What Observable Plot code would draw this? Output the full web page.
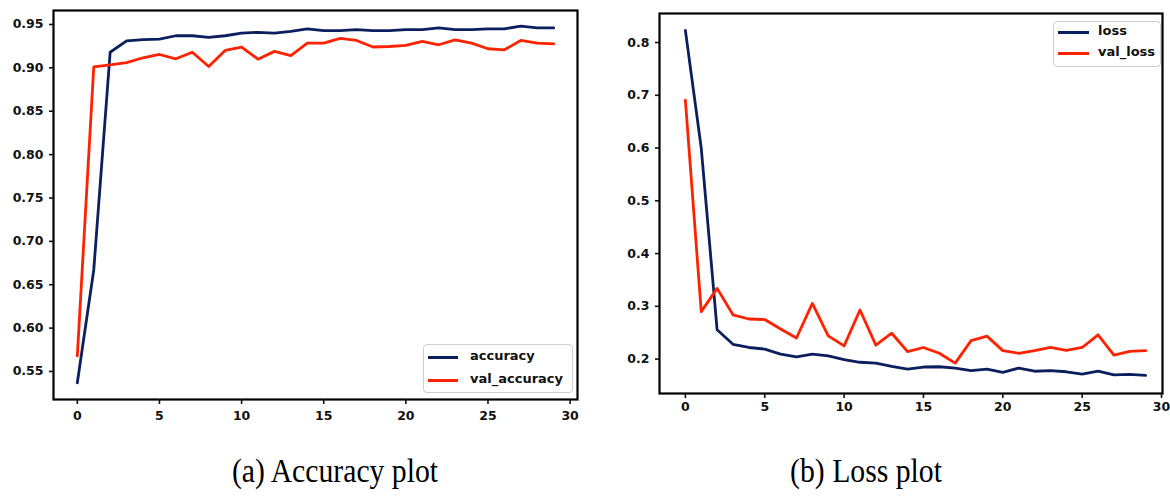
<!DOCTYPE html>
<html>
<head>
<meta charset="utf-8">
<script src="https://cdn.jsdelivr.net/npm/d3@7"></script>
<script src="https://cdn.jsdelivr.net/npm/@observablehq/plot@0.6"></script>
<style>
  html, body { margin: 0; padding: 0; background: #fff; }
  #root { position: relative; width: 1170px; height: 499px; overflow: hidden; background: #fff; }
  .panel { position: absolute; top: 0; }
  .legend { position: absolute; background: #fff; border: 1px solid #cfcfcf; border-radius: 4px; box-sizing: border-box; }
  .lg-line { position: absolute; height: 3px; margin-top: -1.5px; }
  .lg-text { position: absolute; font-family: "DejaVu Sans", sans-serif; font-weight: bold; font-size: 13px; line-height: 16px; margin-top: -9px; color: #111; white-space: nowrap; }
  .caption { position: absolute; font-family: "Liberation Serif", "Times New Roman", serif; font-size: 33px; line-height: 34px; color: #000; text-align: center; white-space: nowrap; transform: scaleX(0.9); transform-origin: 50% 50%; }
</style>
</head>
<body>
<div id="root"></div>
<script>
// ---- data ----
const epochs = [0,1,2,3,4,5,6,7,8,9,10,11,12,13,14,15,16,17,18,19,20,21,22,23,24,25,26,27,28,29];
const accuracy = [0.537, 0.667, 0.918, 0.931, 0.9325, 0.933, 0.937, 0.937, 0.935, 0.937, 0.940, 0.941, 0.940, 0.942, 0.945, 0.943, 0.943, 0.944, 0.943, 0.943, 0.944, 0.944, 0.946, 0.944, 0.944, 0.945, 0.945, 0.948, 0.946, 0.946];
const valAccuracy = [0.568, 0.901, 0.9035, 0.906, 0.9116, 0.9154, 0.9104, 0.918, 0.9016, 0.920, 0.924, 0.910, 0.919, 0.914, 0.9285, 0.9285, 0.934, 0.9316, 0.924, 0.9246, 0.9258, 0.9304, 0.9266, 0.9323, 0.9285, 0.922, 0.9208, 0.9316, 0.9285, 0.9277];
const loss = [0.823, 0.600, 0.2556, 0.228, 0.222, 0.219, 0.2095, 0.2044, 0.2095, 0.206, 0.199, 0.194, 0.1924, 0.186, 0.181, 0.185, 0.1855, 0.183, 0.178, 0.181, 0.175, 0.183, 0.177, 0.178, 0.176, 0.1716, 0.177, 0.170, 0.171, 0.169];
const valLoss = [0.691, 0.290, 0.334, 0.284, 0.276, 0.275, 0.257, 0.240, 0.3055, 0.244, 0.225, 0.293, 0.2265, 0.249, 0.214, 0.222, 0.211, 0.1924, 0.235, 0.2436, 0.216, 0.211, 0.216, 0.222, 0.2164, 0.222, 0.246, 0.2076, 0.2145, 0.216];
const xTicks = [0, 5, 10, 15, 20, 25, 30];
const accTicks = [0.55, 0.60, 0.65, 0.70, 0.75, 0.80, 0.85, 0.90, 0.95];
const lossTicks = [0.2, 0.3, 0.4, 0.5, 0.6, 0.7, 0.8];
const accSeries = ["accuracy", "val_accuracy"];
const lossSeries = ["loss", "val_loss"];
const captions = ["(a) Accuracy plot", "(b) Loss plot"];

const NAVY = "#0b1f5e";
const RED = "#ff2200";

function table(values) { return epochs.map((e, i) => ({ epoch: e, value: values[i] })); }

const root = document.getElementById("root");
const tickStyle = { fontFamily: "DejaVu Sans, sans-serif", fontSize: "12.5px", fontWeight: "bold", color: "#111", background: "transparent" };

// ---- left: accuracy ----
const left = Plot.plot({
  width: 590, height: 430,
  marginLeft: 53, marginRight: 13, marginTop: 10, marginBottom: 31,
  style: tickStyle,
  x: { domain: [-1.45, 30.45] },
  y: { domain: [0.5177, 0.9661] },
  marks: [
    Plot.lineY(table(accuracy), { x: "epoch", y: "value", stroke: NAVY, strokeWidth: 2.8 }),
    Plot.lineY(table(valAccuracy), { x: "epoch", y: "value", stroke: RED, strokeWidth: 2.8 }),
    Plot.frame({ stroke: "#000", strokeWidth: 2.2 }),
    Plot.axisX({ ticks: xTicks, tickFormat: d => String(d), tickSize: 5, tickPadding: 7, strokeWidth: 1.6, label: null }),
    Plot.axisY({ ticks: accTicks, tickFormat: d3.format(".2f"), tickSize: 4, tickPadding: 6, strokeWidth: 1.6, label: null })
  ]
});
left.classList.add("panel");
left.style.left = "0px";
root.appendChild(left);

// ---- right: loss ----
const right = Plot.plot({
  width: 570, height: 430,
  marginLeft: 59, marginRight: 8, marginTop: 13, marginBottom: 37,
  style: tickStyle,
  x: { domain: [-1.63, 30.06] },
  y: { domain: [0.1348, 0.855] },
  marks: [
    Plot.lineY(table(loss), { x: "epoch", y: "value", stroke: NAVY, strokeWidth: 2.8 }),
    Plot.lineY(table(valLoss), { x: "epoch", y: "value", stroke: RED, strokeWidth: 2.8 }),
    Plot.frame({ stroke: "#000", strokeWidth: 2.2 }),
    Plot.axisX({ ticks: xTicks, tickFormat: d => String(d), tickSize: 5, tickPadding: 4, strokeWidth: 1.6, label: null }),
    Plot.axisY({ ticks: lossTicks, tickFormat: d3.format(".1f"), tickSize: 4, tickPadding: 6, strokeWidth: 1.6, label: null })
  ]
});
right.classList.add("panel");
right.style.left = "600px";
root.appendChild(right);

// ---- legends ----
function legend(names, box, rowYs, lineX0, lineX1, textX) {
  const el = document.createElement("div");
  el.className = "legend";
  el.style.left = box.x + "px"; el.style.top = box.y + "px";
  el.style.width = box.w + "px"; el.style.height = box.h + "px";
  const colors = [NAVY, RED];
  names.forEach((n, i) => {
    const ln = document.createElement("div");
    ln.className = "lg-line";
    ln.style.left = (lineX0 - box.x - 1) + "px";
    ln.style.width = (lineX1 - lineX0) + "px";
    ln.style.top = (rowYs[i] - box.y - 1) + "px";
    ln.style.background = colors[i];
    el.appendChild(ln);
    const tx = document.createElement("div");
    tx.className = "lg-text";
    tx.style.left = (textX - box.x - 1) + "px";
    tx.style.top = (rowYs[i] - box.y - 1) + "px";
    tx.textContent = n;
    el.appendChild(tx);
  });
  root.appendChild(el);
}
legend(accSeries, { x: 423, y: 344, w: 150, h: 49 }, [357, 380], 428, 458, 470);
legend(lossSeries, { x: 1053, y: 21, w: 108, h: 46 }, [32, 53], 1058, 1089, 1098);

// ---- captions ----
function caption(text, cx, cy) {
  const el = document.createElement("div");
  el.className = "caption";
  el.textContent = text;
  el.style.left = (cx - 200) + "px";
  el.style.width = "400px";
  el.style.top = (cy - 17) + "px";
  root.appendChild(el);
}
caption(captions[0], 335, 471);
caption(captions[1], 866, 471);
</script>
</body>
</html>
